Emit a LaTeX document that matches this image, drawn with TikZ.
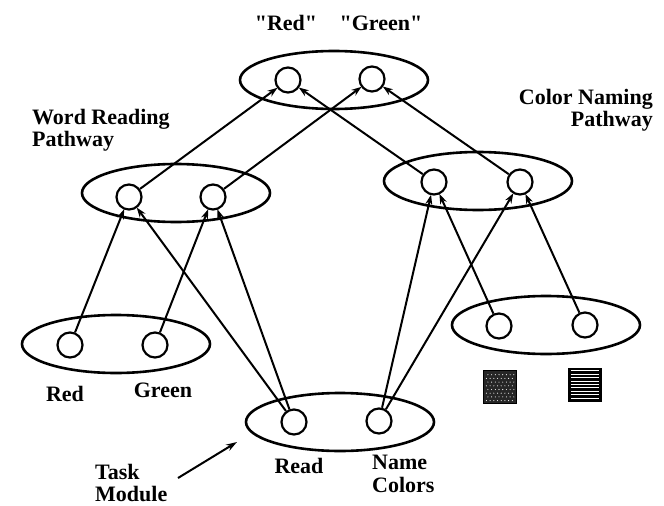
\documentclass[tikz,border=0pt]{standalone}
\usepackage{fontspec}
\setmainfont{Liberation Serif}[Ligatures=TeXOff]
\usetikzlibrary{shapes.geometric,arrows.meta,calc}
\begin{document}
\begin{tikzpicture}[x=1pt,y=-1pt,
  grp/.style={draw,ellipse,line width=2.6pt,minimum width=188pt,minimum height=58pt,inner sep=0pt},
  unit/.style={draw,circle,line width=2.2pt,minimum size=25pt,inner sep=0pt},
  conn/.style={line width=2pt,-{Stealth[length=10pt,width=7pt]},shorten >=-0.5pt},
  lab/.style={font=\fontsize{22}{22.5}\selectfont\bfseries,inner sep=0pt}]
\useasboundingbox (0,0) rectangle (664,506);

% module ellipses
\node[grp] (outE)  at (334,80) {};
\node[grp] (wordE) at (176,193) {};
\node[grp] (colE)  at (478,181) {};
\node[grp] (inwE)  at (116,344) {};
\node[grp] (incE)  at (546,325) {};
\node[grp] (taskE) at (340,422) {};

% units
\node[unit] (outR)  at (288,80) {};
\node[unit] (outG)  at (372,79) {};
\node[unit] (wR)    at (129,197) {};
\node[unit] (wG)    at (213,197) {};
\node[unit] (cR)    at (434,182) {};
\node[unit] (cG)    at (520,182) {};
\node[unit] (inR)   at (70,345) {};
\node[unit] (inG)   at (155,345) {};
\node[unit] (inC1)  at (499,326) {};
\node[unit] (inC2)  at (585,325) {};
\node[unit] (tRead) at (294,422) {};
\node[unit] (tName) at (379,421) {};

% connections
\draw[conn] (inR) -- (wR);
\draw[conn] (inG) -- (wG);
\draw[conn] (tRead) -- (wR);
\draw[conn] (tRead) -- (wG);
\draw[conn] (tName) -- (cR);
\draw[conn] (tName) -- (cG);
\draw[conn] (inC1) -- (cR);
\draw[conn] (inC2) -- (cG);
\draw[conn] (wR) -- (outR);
\draw[conn] (wG) -- (outG);
\draw[conn] (cR) -- (outR);
\draw[conn] (cG) -- (outG);

% labels
\node[lab] (lOutR) at (286,23) {"Red"};
\node[lab] (lOutG) at (381,23) {"Green"};
\node[lab,align=left,anchor=west] (lWord) at (32,130) {Word Reading\\Pathway};
\node[lab,align=right,anchor=east] (lCol) at (653,110) {Color Naming\\Pathway};
\node[lab] (lRed) at (65,394) {Red};
\node[lab] (lGreen) at (163,390) {Green};
\node[lab] (lRead) at (299,466) {Read};
\node[lab,align=left,anchor=west] (lName) at (372,474) {Name\\Colors};
\node[lab,align=left,anchor=west] (lTask) at (95,483) {Task\\Module};

\coordinate (tmTail) at (178,478);
\coordinate (tmHead) at (237,442);
\draw[line width=2pt,-{Stealth[length=11pt,width=7pt]}] (tmTail) -- (tmHead);

% colour swatches
\node[draw,fill=black!85,line width=1.2pt,minimum size=33pt,inner sep=0pt] (swR) at (500,387) {};
\foreach \i in {0,...,7}{
  \foreach \j in {0,...,7}{
    \pgfmathsetmacro\dx{3.5+\i*3.7+mod(\j,2)*1.5}
    \pgfmathsetmacro\dy{-3.5-\j*3.7}
    \fill[white] ($(swR.south west)+(\dx,\dy)$) circle (0.55pt);
  }
}
\node[draw,fill=black,line width=1.2pt,minimum size=33pt,inner sep=0pt] (swG) at (585,385) {};
\foreach \k in {0,...,8}{
  \pgfmathsetmacro\ky{3+\k*3.4}
  \draw[white,line width=1pt] ($(swG.north west)+(3,\ky)$) -- ($(swG.north east)+(-3,\ky)$);
}
\end{tikzpicture}
\end{document}
